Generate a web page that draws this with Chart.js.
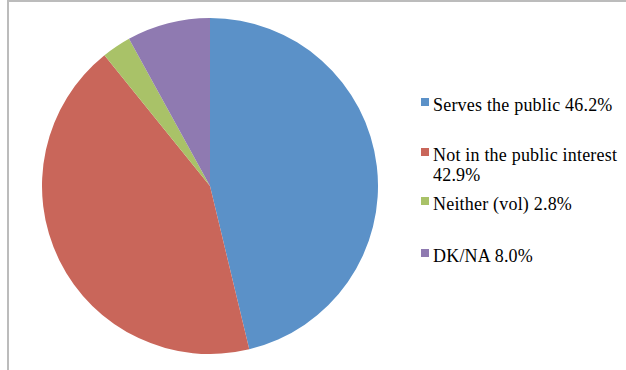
<!DOCTYPE html>
<html>
<head>
<meta charset="utf-8">
<script src="https://cdn.jsdelivr.net/npm/chart.js@4"></script>
<style>
  html, body { margin: 0; padding: 0; background: #fff; }
  #frame {
    position: relative; width: 626px; height: 370px; overflow: hidden;
  }
  #border {
    position: absolute; left: 7px; top: 0px; width: 640px; height: 400px;
    border-left: 2px solid #bcbcbc; border-top: 2px solid #bcbcbc;
  }
  #pieBox { position: absolute; left: 42px; top: 18px; width: 336px; height: 336px; }
  #legend { position: absolute; left: 421px; top: 0; font-family: "Liberation Serif", serif; font-size: 18px; letter-spacing: 0.2px; color: #000; }
  .item { position: absolute; left: 0; white-space: nowrap; }
  .sw { position: absolute; left: 0; width: 8px; height: 8px; }
  .txt { position: absolute; left: 12px; line-height: 20px; }
</style>
</head>
<body>
<div id="frame">
  <div id="border"></div>
  <div id="pieBox"><canvas id="myChart"></canvas></div>
  <div id="legend"></div>
</div>
<script>
const categories = ['Serves the public', 'Not in the public interest', 'Neither (vol)', 'DK/NA'];
const values = [46.2, 42.9, 2.8, 8.0];
const colors = ['#5b91c8', '#c9665a', '#a9c268', '#8f7ab1'];
// legend text lines (second entry wraps like the original)
const legendLines = [
    ['Serves the public 46.2%'],
    ['Not in the public interest', '42.9%'],
    ['Neither (vol) 2.8%'],
    ['DK/NA 8.0%']
];
const swatchTops = [98, 148, 197, 249];

const ctx = document.getElementById('myChart').getContext('2d');
const chart = new Chart(ctx, {
    type: 'pie',
    data: {
        labels: categories,
        datasets: [{
            data: values,
            backgroundColor: colors,
            borderWidth: 0
        }]
    },
    options: {
        responsive: true,
        maintainAspectRatio: false,
        animation: false,
        layout: { padding: 0 },
        plugins: {
            legend: { display: false },
            tooltip: { enabled: false }
        }
    }
});

const legend = document.getElementById('legend');
categories.forEach((cat, i) => {
    const item = document.createElement('div');
    item.className = 'item';
    item.style.top = swatchTops[i] + 'px';
    const sw = document.createElement('div');
    sw.className = 'sw';
    sw.style.background = colors[i];
    const txt = document.createElement('div');
    txt.className = 'txt';
    txt.style.top = '-3px';
    txt.innerHTML = legendLines[i].join('<br>');
    item.appendChild(sw);
    item.appendChild(txt);
    legend.appendChild(item);
});
</script>
</body>
</html>
